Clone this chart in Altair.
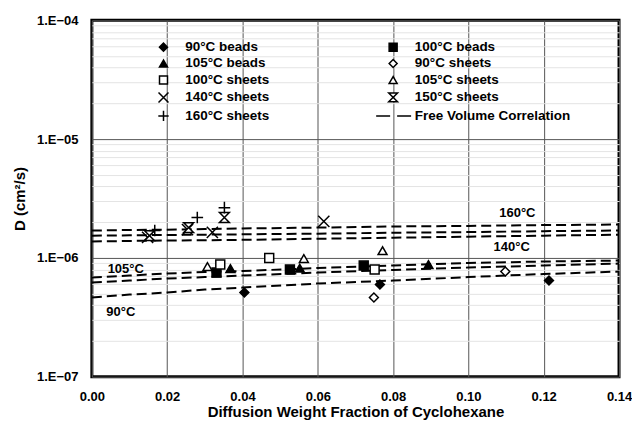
import altair as alt
import pandas as pd

# ---------------- data ----------------
curve_x = [0.0, 0.01, 0.02, 0.03, 0.04, 0.06, 0.08, 0.10, 0.12, 0.14]
curve_160 = [1.70e-6, 1.72e-6, 1.73e-6, 1.75e-6, 1.77e-6, 1.80e-6, 1.84e-6, 1.86e-6, 1.89e-6, 1.91e-6]
curve_150 = [1.54e-6, 1.55e-6, 1.56e-6, 1.57e-6, 1.58e-6, 1.60e-6, 1.63e-6, 1.65e-6, 1.68e-6, 1.70e-6]
curve_140 = [1.375e-6, 1.39e-6, 1.40e-6, 1.41e-6, 1.42e-6, 1.45e-6, 1.48e-6, 1.51e-6, 1.54e-6, 1.57e-6]
curve_105 = [6.84e-7, 7.11e-7, 7.39e-7, 7.61e-7, 7.76e-7, 8.22e-7, 8.63e-7, 9.06e-7, 9.33e-7, 9.51e-7]
curve_100 = [6.21e-7, 6.45e-7, 6.71e-7, 6.90e-7, 7.11e-7, 7.53e-7, 7.91e-7, 8.30e-7, 8.63e-7, 8.97e-7]
curve_90 = [4.64e-7, 4.92e-7, 5.11e-7, 5.42e-7, 5.63e-7, 6.09e-7, 6.45e-7, 6.90e-7, 7.32e-7, 7.68e-7]

beads90_x = [0.0405, 0.0765, 0.1214]
beads90_y = [5.11e-7, 5.97e-7, 6.45e-7]
beads100_x = [0.0331, 0.0526, 0.0722]
beads100_y = [7.53e-7, 7.99e-7, 8.63e-7]
beads105_x = [0.0368, 0.0552, 0.0894]
beads105_y = [8.14e-7, 8.2e-7, 8.80e-7]
sheets90_x = [0.0749, 0.1098]
sheets90_y = [4.64e-7, 7.68e-7]
sheets100_x = [0.0341, 0.0471, 0.0751]
sheets100_y = [8.8e-7, 1.0e-6, 7.99e-7]
sheets105_x = [0.0307, 0.0563, 0.0772]
sheets105_y = [8.46e-7, 9.88e-7, 1.15e-6]
sheets140_x = [0.0148, 0.0254, 0.0320, 0.0616]
sheets140_y = [1.49e-6, 1.73e-6, 1.64e-6, 2.03e-6]
sheets150_x = [0.0153, 0.0257, 0.0352]
sheets150_y = [1.54e-6, 1.80e-6, 2.19e-6]
sheets160_x = [0.0167, 0.0280, 0.0352]
sheets160_y = [1.70e-6, 2.19e-6, 2.65e-6]

annot_text = ["160°C", "140°C", "105°C", "90°C"]
annot_x = [0.1130, 0.1115, 0.0090, 0.0077]
annot_y = [2.41e-6, 1.224e-6, 8.14e-7, 3.54e-7]

x_ticks = [0.0, 0.02, 0.04, 0.06, 0.08, 0.10, 0.12, 0.14]
y_ticks = [m * 10.0 ** e for e in (-7, -6, -5) for m in range(1, 10)] + [1e-4]

# legend order (Vega fills the two columns top to bottom)
series_order = ["90°C beads", "105°C beads", "100°C sheets", "140°C sheets", "160°C sheets",
                "100°C beads", "90°C sheets", "105°C sheets", "150°C sheets",
                "Free Volume Correlation"]
X_PATH = "M-1.25,-1.25L1.25,1.25M-1.25,1.25L1.25,-1.25"
PLUS_PATH = "M-1.3,0L1.3,0M0,-1.3L0,1.3"
HOUR_PATH = "M-1.1,-1.1L1.1,-1.1L-1.1,1.1L1.1,1.1Z"
DASH_PATH = "M-4.25,0L-0.75,0M1,0L4.5,0"
shape_range = ["diamond", "triangle-up", "square", X_PATH, PLUS_PATH,
               "square", "diamond", "triangle-up", HOUR_PATH, DASH_PATH]
fill_range = ["black", "black", "white", "transparent", "transparent",
              "black", "white", "white", "white", "transparent"]
stroke_range = ["black"] * 10

# ---------------- tables ----------------
curves = []
for name, vals in [("160", curve_160), ("150", curve_150), ("140", curve_140),
                   ("105", curve_105), ("100", curve_100), ("90", curve_90)]:
    for xv, yv in zip(curve_x, vals):
        curves.append({"temp": name, "x": xv, "D": yv})
curves = pd.DataFrame(curves)

pts = []
for name, xs, ys in [("90°C beads", beads90_x, beads90_y), ("100°C beads", beads100_x, beads100_y),
                     ("105°C beads", beads105_x, beads105_y), ("90°C sheets", sheets90_x, sheets90_y),
                     ("100°C sheets", sheets100_x, sheets100_y), ("105°C sheets", sheets105_x, sheets105_y),
                     ("140°C sheets", sheets140_x, sheets140_y), ("150°C sheets", sheets150_x, sheets150_y),
                     ("160°C sheets", sheets160_x, sheets160_y)]:
    for xv, yv in zip(xs, ys):
        pts.append({"series": name, "x": xv, "D": yv})
pts = pd.DataFrame(pts)

annot = pd.DataFrame({"t": annot_text, "x": annot_x, "D": annot_y})

FONT = "Liberation Sans"
decade_test = "abs(log(datum.value)/LN10 - round(log(datum.value)/LN10)) < 0.01"

x_enc = alt.X("x:Q", scale=alt.Scale(domain=[0, 0.14], nice=False),
              axis=alt.Axis(values=x_ticks, format=".2f", title="Diffusion Weight Fraction of Cyclohexane",
                            labelFlush=False, grid=True, gridColor="#555555", gridWidth=1,
                            domain=False, ticks=False, labelPadding=14, titlePadding=1))
y_enc = alt.Y("D:Q", scale=alt.Scale(type="log", domain=[1e-7, 1e-4], nice=False),
              axis=alt.Axis(values=y_ticks, title="D (cm²/s)",
                            labelExpr=decade_test + " ? '1.E' + format(round(log(datum.value)/LN10), '03d') : ''",
                            labelOverlap=False, grid=True,
                            gridColor={"condition": {"test": decade_test, "value": "#555555"}, "value": "#e4e4e4"},
                            domain=False, ticks=False, labelPadding=14, titlePadding=9))

lines = alt.Chart(curves).mark_line(strokeDash=[10, 5], strokeWidth=2, color="black").encode(
    x=x_enc, y=y_enc, detail="temp:N")

legend = alt.Legend(orient="none", legendX=65, legendY=20, columns=2, columnPadding=103,
                    rowPadding=1.5, title=None, symbolSize=64, labelFontSize=13.5, labelFont=FONT,
                    labelFontWeight="bold", labelOffset=15, symbolStrokeWidth=1.5, padding=0,
                    labelColor="black")

points = alt.Chart(pts).mark_point(filled=True, strokeWidth=1.5, opacity=1, size=80).encode(
    x=alt.X("x:Q"), y=alt.Y("D:Q"),
    shape=alt.Shape("series:N", scale=alt.Scale(domain=series_order, range=shape_range), legend=legend),
    fill=alt.Fill("series:N", scale=alt.Scale(domain=series_order, range=fill_range), legend=legend),
    stroke=alt.Stroke("series:N", scale=alt.Scale(domain=series_order, range=stroke_range), legend=legend),
)

labels = alt.Chart(annot).mark_text(font=FONT, fontWeight="bold", fontSize=13, color="black").encode(
    x="x:Q", y="D:Q", text="t:N")

chart = alt.layer(lines, points, labels).properties(
    width=528, height=357,
    padding={"left": 84, "top": 12, "right": 13, "bottom": 45},
    autosize=alt.AutoSizeParams(type="none"),
).configure_view(stroke="black", strokeWidth=3).configure_axis(
    labelFont=FONT, labelFontSize=13, labelFontWeight="bold", labelColor="black",
    titleFont=FONT, titleFontSize=15, titleFontWeight="bold", titleColor="black",
)

chart.save("out.html", embed_options={"renderer": "svg", "actions": False})
